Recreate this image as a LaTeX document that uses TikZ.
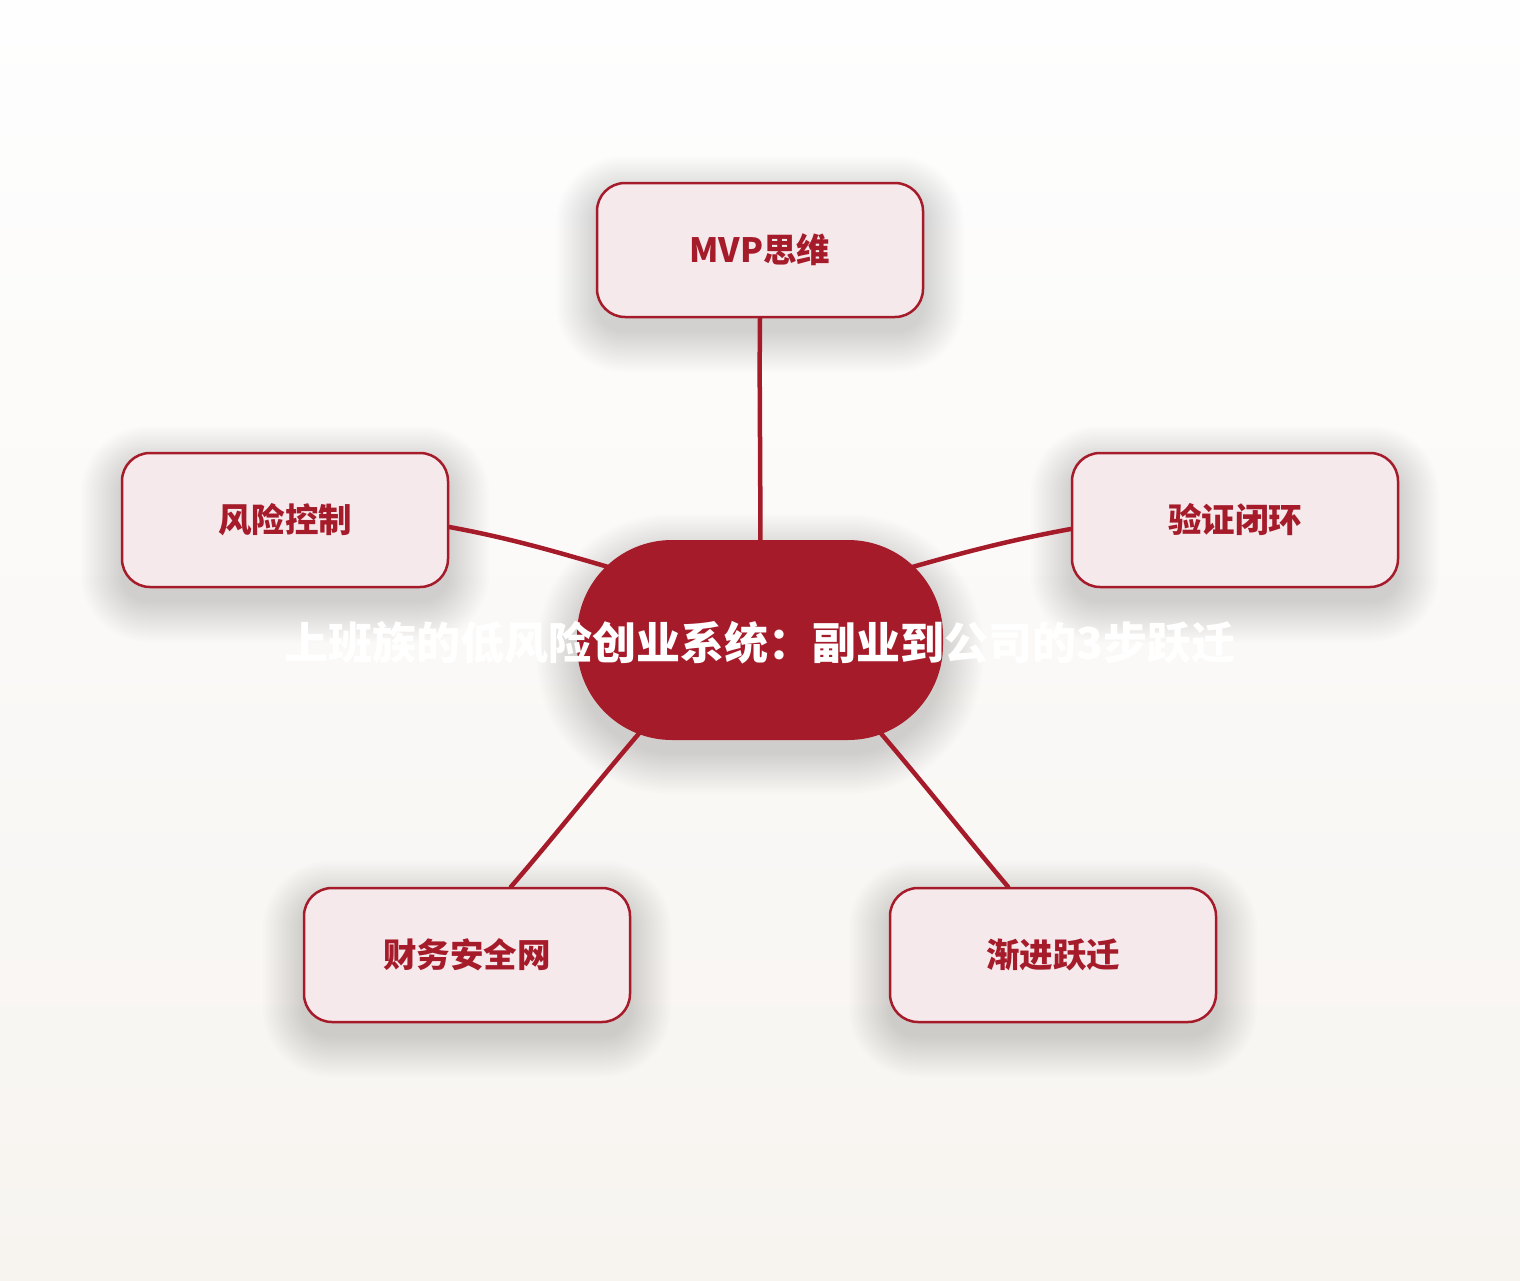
\documentclass[tikz,border=0pt]{standalone}
\usepackage{fontspec}
\setmainfont{Noto Sans CJK SC}
\usetikzlibrary{calc}
\definecolor{accent}{HTML}{A51B2A}
\definecolor{boxfill}{HTML}{F5E9EC}
\definecolor{bgtop}{HTML}{FEFEFE}
\definecolor{bgbot}{HTML}{F7F4F0}
\pgfdeclarelayer{bg}
\pgfdeclarelayer{shadow}
\pgfdeclarelayer{lines}
\pgfsetlayers{bg,shadow,lines,main}
\tikzset{
  box/.style={draw=accent, line width=2.5pt, fill=boxfill, rounded corners=28pt,
    minimum width=326pt, minimum height=134pt, text=accent,
    font=\bfseries\fontsize{33.5}{40}\selectfont},
  hub/.style={fill=accent, rounded corners=95pt, minimum width=366pt, minimum height=200pt},
  hubtext/.style={text=white, font=\bfseries\fontsize{44}{52}\selectfont, inner sep=0pt},
  conn/.style={draw=accent, line width=4.5pt, line cap=round},
  softshadow/.style={fill=black, opacity=0.0075}
}
\newcommand{\mkshadow}[2]{%
  \foreach \e in {40,38,...,0}{%
    \pgfmathsetmacro{\rr}{#2+\e}%
    \fill[softshadow, rounded corners=\rr pt]
      ([xshift=-\e pt, yshift=-\e pt-14pt]#1.south west) rectangle
      ([xshift=\e pt, yshift=\e pt-14pt]#1.north east);
  }%
}
\begin{document}
\begin{tikzpicture}[x=1pt,y=-1pt]
\useasboundingbox (0,0) rectangle (1520,1280);
\node[hub] (c) at (760,640) {};
\node[hubtext] (ct) at (760,643) {上班族的低风险创业系统：副业到公司的3步跃迁};
\node[box] (t) at (760,250) {MVP思维};
\node[box] (l) at (285,520) {风险控制};
\node[box] (r) at (1235,520) {验证闭环};
\node[box] (bl) at (467,955) {财务安全网};
\node[box] (br) at (1053,955) {渐进跃迁};
\begin{pgfonlayer}{bg}
\shade[top color=bgtop, bottom color=bgbot] (0,0) rectangle (1520,1280);
\end{pgfonlayer}
\begin{pgfonlayer}{shadow}
\mkshadow{c}{95}
\mkshadow{t}{28}
\mkshadow{l}{28}
\mkshadow{r}{28}
\mkshadow{bl}{28}
\mkshadow{br}{28}
\end{pgfonlayer}
\begin{pgfonlayer}{lines}
\draw[conn] (t.south) .. controls (759,400) and (761,470) .. ($(c.center)+(0,-60)$);
\draw[conn] ([yshift=-7pt]l.east) .. controls (520,540) and (570,556) .. ($(c.center)+(-114,-62)$);
\draw[conn] ([yshift=-9pt]r.west) .. controls (1000,542) and (950,556) .. ($(c.center)+(114,-62)$);
\draw[conn] ([xshift=44pt]bl.north) .. controls (560,830) and (600,778) .. ($(c.center)+(-94,62)$);
\draw[conn] ([xshift=-45pt]br.north) .. controls (960,830) and (920,778) .. ($(c.center)+(94,62)$);
\end{pgfonlayer}
\end{tikzpicture}
\end{document}
